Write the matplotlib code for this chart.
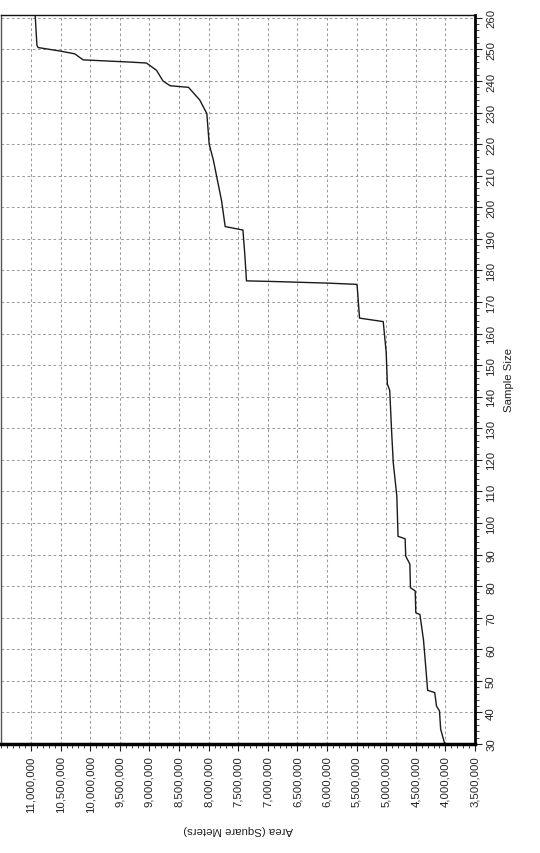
import matplotlib
matplotlib.use("Agg")
import matplotlib.pyplot as plt
from matplotlib.ticker import MultipleLocator, FuncFormatter

# Data: sample size vs. area (square meters)
sample_size = [30, 34.7, 40.5, 42, 46.3, 47, 54, 63, 71, 71.6, 78.5, 79.5, 87, 89.5,
               95, 95.8, 108.5, 119, 129.6, 142, 144, 154, 163.8, 164.9, 175, 175.6,
               176, 176.5, 176.7, 185.5, 192.8, 193.9, 202, 215, 220, 229.7, 234,
               238, 238.5, 240, 243.4, 245.7, 246, 246.7, 248.6, 249.5, 250.6, 251.3,
               261]
area = [4.01e6, 4.08e6, 4.10e6, 4.15e6, 4.18e6, 4.30e6, 4.33e6, 4.37e6, 4.43e6, 4.50e6,
        4.51e6, 4.59e6, 4.60e6, 4.67e6, 4.68e6, 4.80e6, 4.82e6, 4.88e6, 4.91e6, 4.94e6,
        4.98e6, 5.00e6, 5.05e6, 5.45e6, 5.49e6, 5.50e6, 6.01e6, 6.91e6, 7.36e6, 7.39e6,
        7.42e6, 7.72e6, 7.78e6, 7.92e6, 7.99e6, 8.03e6, 8.15e6, 8.34e6, 8.65e6, 8.77e6,
        8.88e6, 9.05e6, 9.33e6, 10.12e6, 10.26e6, 10.51e6, 10.88e6, 10.90e6, 10.93e6]

area_ticks = [11.0e6, 10.5e6, 10.0e6, 9.5e6, 9.0e6, 8.5e6, 8.0e6, 7.5e6, 7.0e6,
              6.5e6, 6.0e6, 5.5e6, 5.0e6, 4.5e6, 4.0e6, 3.5e6]
sample_ticks = list(range(30, 261, 10))

plt.rcParams['font.family'] = ['Liberation Sans', 'DejaVu Sans']

fig = plt.figure(figsize=(5.4, 8.54), dpi=100)
ax = fig.add_axes([0.0026, 0.1276, 0.8770, 0.8540])

ax.plot(area, sample_size, color='#1a1a1a', linewidth=1.0)

ax.set_xlim(11.5e6, 3.5e6)
ax.set_ylim(30, 261)

ax.set_xticks(area_ticks)
ax.xaxis.set_minor_locator(MultipleLocator(100000))
ax.xaxis.set_major_formatter(FuncFormatter(lambda v, p: f"{int(round(v)):,}"))
ax.set_yticks(sample_ticks)
ax.yaxis.set_minor_locator(MultipleLocator(2))

ax.yaxis.tick_right()
ax.yaxis.set_label_position('right')

ax.tick_params(axis='x', which='major', labelrotation=90, labelsize=8.2, length=5,
               width=0.8, direction='out', pad=3, colors='#222222')
ax.tick_params(axis='x', which='minor', length=3, width=0.7, direction='out', colors='#444444')
ax.tick_params(axis='y', which='major', labelrotation=90, labelsize=8.2, length=5,
               width=0.8, direction='out', pad=3, colors='#222222')
ax.tick_params(axis='y', which='minor', length=3, width=0.7, direction='out', colors='#444444')
for lab in ax.get_yticklabels():
    lab.set_va('center')

ax.grid(True, which='major', color='#9a9a9a', linestyle=(0, (2.5, 2.5)), linewidth=0.75)

ax.set_xlabel("Area (Square Meters)", rotation=180, fontsize=8.2, labelpad=8, color='#222222')
ax.set_ylabel("Sample Size", rotation=90, fontsize=8.2, labelpad=6, color='#222222')

ax.spines['left'].set_color('#555555')
ax.spines['left'].set_linewidth(1.0)
ax.spines['top'].set_color('#111111')
ax.spines['top'].set_linewidth(1.0)
ax.spines['right'].set_color('#000000')
ax.spines['right'].set_linewidth(2.0)
ax.spines['bottom'].set_color('#000000')
ax.spines['bottom'].set_linewidth(2.5)

fig.savefig("out.png", dpi=100)
